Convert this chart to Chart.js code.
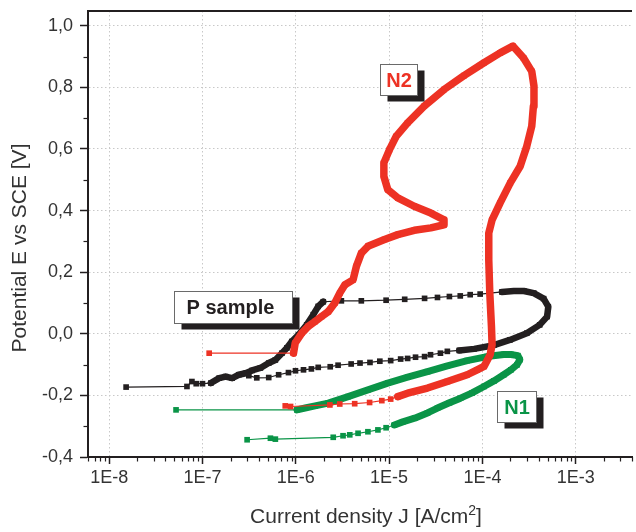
<!DOCTYPE html>
<html><head><meta charset="utf-8">
<script src="https://cdn.jsdelivr.net/npm/chart.js@4"></script>
<style>html,body{margin:0;padding:0;background:#fff}canvas{display:block}</style>
</head><body>
<canvas id="c" width="636" height="532"></canvas>
<script>
// ---------- data (J in A/cm2, E in V vs SCE) ----------
const xTickValues = [1e-8, 1e-7, 1e-6, 1e-5, 1e-4, 1e-3];
const yTickValues = [-0.4, -0.2, 0.0, 0.2, 0.4, 0.6, 0.8, 1.0];

const pJ = [1.52e-8, 6.82e-8, 7.71e-8, 8.57e-8, 1.0e-7, 1.23e-7, 1.51e-7, 1.77e-7, 2.08e-7, 2.45e-7,
  2.90e-7, 3.40e-7, 4.18e-7, 5.13e-7, 6.04e-7, 7.10e-7, 8.02e-7, 9.06e-7, 1.07e-6, 1.31e-6,
  1.54e-6, 1.74e-6, 1.97e-6, 3.08e-6, 5.04e-6, 9.29e-6, 1.47e-5, 2.40e-5, 3.30e-5, 4.43e-5,
  5.79e-5, 7.40e-5, 9.46e-5, 1.21e-4, 1.62e-4, 2.17e-4, 2.78e-4, 3.55e-4, 4.53e-4, 5.08e-4,
  4.94e-4, 4.11e-4, 2.99e-4, 1.97e-4, 1.33e-4, 8.17e-5, 5.65e-5, 4.21e-5, 3.55e-5, 2.78e-5,
  2.40e-5, 1.92e-5, 1.58e-5, 1.33e-5, 1.04e-5, 7.96e-6, 6.24e-6, 4.88e-6, 3.92e-6, 2.84e-6,
  2.34e-6, 1.74e-6, 1.47e-6, 1.21e-6, 9.93e-7, 8.35e-7, 6.55e-7, 5.13e-7, 3.82e-7, 3.14e-7];
const pE = [-0.173, -0.171, -0.155, -0.162, -0.162, -0.160, -0.144, -0.139, -0.144, -0.133,
  -0.128, -0.119, -0.111, -0.095, -0.085, -0.063, -0.046, -0.025, -0.003, 0.029,
  0.062, 0.089, 0.104, 0.107, 0.107, 0.109, 0.112, 0.115, 0.118, 0.121,
  0.123, 0.127, 0.129, 0.132, 0.136, 0.139, 0.139, 0.132, 0.114, 0.088,
  0.056, 0.029, 0.002, -0.020, -0.037, -0.049, -0.054, -0.057, -0.063, -0.068,
  -0.074, -0.076, -0.080, -0.082, -0.087, -0.089, -0.093, -0.095, -0.098, -0.102,
  -0.107, -0.109, -0.114, -0.117, -0.120, -0.126, -0.133, -0.142, -0.143, -0.136];

const n2J = [7.71e-7, 8.79e-7, 2.32e-6, 2.96e-6, 4.28e-6, 6.18e-6, 8.36e-6, 1.04e-5, 1.24e-5, 1.58e-5,
  2.58e-5, 4.21e-5, 6.87e-5, 8.79e-5, 1.04e-4, 1.21e-4, 1.27e-4, 1.25e-4, 1.20e-4, 1.17e-4,
  1.17e-4, 1.27e-4, 1.55e-4, 1.99e-4, 2.54e-4, 2.99e-4, 3.38e-4, 3.52e-4, 3.57e-4, 3.38e-4,
  2.75e-4, 2.12e-4, 1.55e-4, 1.04e-4, 6.34e-5, 3.88e-5, 2.38e-5, 1.58e-5, 1.19e-5, 1.01e-5,
  8.79e-6, 8.79e-6, 9.68e-6, 1.24e-5, 1.86e-5, 2.80e-5, 3.88e-5, 3.88e-5, 2.80e-5, 1.86e-5,
  1.24e-5, 8.93e-6, 5.93e-6, 5.04e-6, 4.46e-6, 4.11e-6, 3.36e-6, 2.96e-6, 2.62e-6, 2.23e-6,
  1.89e-6, 1.61e-6, 1.36e-6, 1.16e-6, 9.86e-7, 9.46e-7, 1.18e-7];
const n2E = [-0.234, -0.236, -0.231, -0.228, -0.227, -0.223, -0.217, -0.212, -0.204, -0.193,
  -0.176, -0.155, -0.133, -0.117, -0.106, -0.068, -0.036, 0.024, 0.132, 0.240,
  0.327, 0.370, 0.425, 0.490, 0.544, 0.609, 0.674, 0.739, 0.804, 0.852,
  0.896, 0.934, 0.912, 0.880, 0.838, 0.793, 0.739, 0.685, 0.641, 0.598,
  0.555, 0.511, 0.468, 0.441, 0.414, 0.392, 0.370, 0.354, 0.344, 0.336,
  0.322, 0.306, 0.284, 0.262, 0.219, 0.175, 0.159, 0.132, 0.100, 0.072,
  0.056, 0.040, 0.024, 0.002, -0.030, -0.063, -0.063];

const n1J = [3.01e-7, 5.35e-7, 6.04e-7, 2.52e-6, 3.21e-6, 3.79e-6, 4.65e-6, 5.93e-6, 7.59e-6, 9.29e-6,
  1.14e-5, 1.40e-5, 1.88e-5, 2.58e-5, 3.30e-5, 4.43e-5, 5.83e-5, 7.76e-5, 1.04e-4, 1.33e-4,
  1.69e-4, 2.02e-4, 2.34e-4, 2.52e-4, 2.40e-4, 2.02e-4, 1.69e-4, 1.12e-4, 6.87e-5, 4.21e-5,
  2.58e-5, 1.58e-5, 9.68e-6, 5.93e-6, 3.64e-6, 2.23e-6, 1.61e-6, 1.26e-6, 1.03e-6, 5.21e-8];
const n1E = [-0.344, -0.339, -0.342, -0.336, -0.331, -0.328, -0.323, -0.318, -0.312, -0.305,
  -0.296, -0.286, -0.274, -0.257, -0.241, -0.224, -0.209, -0.192, -0.171, -0.153,
  -0.133, -0.117, -0.101, -0.084, -0.071, -0.067, -0.067, -0.074, -0.087, -0.104,
  -0.123, -0.141, -0.160, -0.182, -0.204, -0.225, -0.234, -0.241, -0.247, -0.247];

const seriesLabels = ['N2', 'P sample', 'N1'];

// ---------- styles ----------
const BLACK = '#231f20', RED = '#ed3224', GREEN = '#0a9447', AXIS = '#231f20', TXT = '#333333';
const FONT = '"Liberation Sans", Arial, sans-serif';
// index ranges [from, to) of segments where the measured points are dense (drawn as solid thick line)
const denseRanges = { P: [[5, 22], [34, 46]], N2: [[8, 65]], N1: [[10, 38]] };

function pts(J, E) { return J.map((v, i) => ({ x: v, y: E[i] })); }
function segWidth(ranges, thick) {
  return ctx => ranges.some(r => ctx.p0DataIndex >= r[0] && ctx.p0DataIndex < r[1]) ? thick : 1.2;
}
function ds(label, J, E, color, ranges, thick) {
  return {
    label, data: pts(J, E), showLine: true, borderColor: color, backgroundColor: color,
    borderWidth: 1.2, pointStyle: 'rect', pointRadius: 4, pointBorderWidth: 0,
    pointBackgroundColor: color, borderJoinStyle: 'round', borderCapStyle: 'round',
    segment: { borderWidth: segWidth(ranges, thick) }
  };
}

const boxes = [
  { text: 'N2', color: RED, x: 1.25e-5, y: 0.825, w: 37, h: 31 },
  { text: 'P sample', color: BLACK, x: 2.11e-7, y: 0.086, w: 118, h: 32, left: 12 },
  { text: 'N1', color: GREEN, x: 2.34e-4, y: -0.237, w: 39, h: 31 }
];

const decor = {
  id: 'decor',
  afterDraw(chart) {
    const ctx = chart.ctx, xs = chart.scales.x, ys = chart.scales.y, a = chart.chartArea;
    ctx.save();
    // minor ticks
    ctx.strokeStyle = AXIS; ctx.lineWidth = 1.2;
    for (let d = -9; d <= -3; d++) for (let m = 2; m <= 9; m++) {
      const v = m * Math.pow(10, d);
      if (v < xs.min || v > xs.max) continue;
      const px = Math.round(xs.getPixelForValue(v)) + 0.5;
      ctx.beginPath(); ctx.moveTo(px, a.bottom); ctx.lineTo(px, a.bottom + 4.5); ctx.stroke();
    }
    for (let i = 0; i < yTickValues.length - 1; i++) {
      const v = (yTickValues[i] + yTickValues[i + 1]) / 2;
      const py = Math.round(ys.getPixelForValue(v)) + 0.5;
      ctx.beginPath(); ctx.moveTo(a.left - 4.5, py); ctx.lineTo(a.left, py); ctx.stroke();
    }
    // top frame
    ctx.lineWidth = 2;
    ctx.beginPath(); ctx.moveTo(a.left - 1, a.top); ctx.lineTo(a.right, a.top); ctx.stroke();

    // labels with shadow boxes
    for (const b of boxes) {
      const cx = xs.getPixelForValue(b.x), cy = ys.getPixelForValue(b.y);
      const l = Math.round(cx - b.w / 2) + 0.5, t = Math.round(cy - b.h / 2) + 0.5;
      ctx.fillStyle = BLACK; ctx.fillRect(l + 7, t + 6, b.w, b.h);
      ctx.fillStyle = '#fff'; ctx.fillRect(l, t, b.w, b.h);
      ctx.strokeStyle = '#6a6a6a'; ctx.lineWidth = 1; ctx.strokeRect(l, t, b.w, b.h);
      ctx.fillStyle = b.color; ctx.font = 'bold 20px ' + FONT; ctx.textBaseline = 'middle';
      if (b.left) { ctx.textAlign = 'left'; ctx.fillText(b.text, l + b.left, t + b.h / 2 + 1); }
      else { ctx.textAlign = 'center'; ctx.fillText(b.text, l + b.w / 2, t + b.h / 2 + 1); }
    }

    // axis titles
    ctx.fillStyle = TXT; ctx.font = '21px ' + FONT;
    ctx.save(); ctx.translate(20.5, 248); ctx.rotate(-Math.PI / 2);
    ctx.textAlign = 'center'; ctx.textBaseline = 'middle';
    ctx.fillText('Potential E vs SCE [V]', 0, 0); ctx.restore();

    const t1 = 'Current density J [A/cm', sup = '2', t2 = ']';
    ctx.font = '21px ' + FONT; const w1 = ctx.measureText(t1).width, w3 = ctx.measureText(t2).width;
    ctx.font = '14px ' + FONT; const w2 = ctx.measureText(sup).width;
    const x0 = 366 - (w1 + w2 + w3) / 2, base = 523;
    ctx.textAlign = 'left'; ctx.textBaseline = 'alphabetic';
    ctx.font = '21px ' + FONT; ctx.fillText(t1, x0, base);
    ctx.font = '14px ' + FONT; ctx.fillText(sup, x0 + w1, base - 8);
    ctx.font = '21px ' + FONT; ctx.fillText(t2, x0 + w1 + w2, base);
    ctx.restore();
  }
};

Chart.defaults.font.family = FONT;
new Chart(document.getElementById('c'), {
  type: 'scatter',
  data: {
    datasets: [
      ds(seriesLabels[0], n2J, n2E, RED, denseRanges.N2, 7.5),
      ds(seriesLabels[1], pJ, pE, BLACK, denseRanges.P, 6.5),
      ds(seriesLabels[2], n1J, n1E, GREEN, denseRanges.N1, 7)
    ]
  },
  options: {
    responsive: false, animation: false, devicePixelRatio: 1,
    layout: { padding: { top: 11, left: 0, right: 0, bottom: 0 } },
    plugins: { legend: { display: false }, tooltip: { enabled: false } },
    scales: {
      x: {
        type: 'logarithmic', position: 'bottom', min: 5.934e-9, max: 4.01e-3,
        afterBuildTicks: s => { s.ticks = xTickValues.map(v => ({ value: v })); },
        afterFit: s => { s.height = 75; s.paddingLeft = 0; s.paddingRight = 0; },
        ticks: {
          autoSkip: false, maxRotation: 0, padding: 3, color: TXT, font: { size: 18 },
          callback: v => '1E' + Math.round(Math.log10(v))
        },
        grid: { color: '#c8c8c8', lineWidth: 1, tickColor: AXIS, tickLength: 7, tickWidth: 1.5 },
        border: { color: AXIS, width: 2, dash: [1.5, 2.5] }
      },
      y: {
        type: 'linear', position: 'left', min: -0.4, max: 1.048,
        afterBuildTicks: s => { s.ticks = yTickValues.map(v => ({ value: v })); },
        afterFit: s => { s.width = 88; s.paddingTop = 0; s.paddingBottom = 0; },
        ticks: {
          padding: 7, color: TXT, font: { size: 18 },
          callback: v => v.toFixed(1).replace('.', ',')
        },
        grid: { color: '#c8c8c8', lineWidth: 1, tickColor: AXIS, tickLength: 8, tickWidth: 1.5 },
        border: { color: AXIS, width: 2, dash: [1.5, 2.5] }
      }
    }
  },
  plugins: [decor]
});
</script>
</body></html>
